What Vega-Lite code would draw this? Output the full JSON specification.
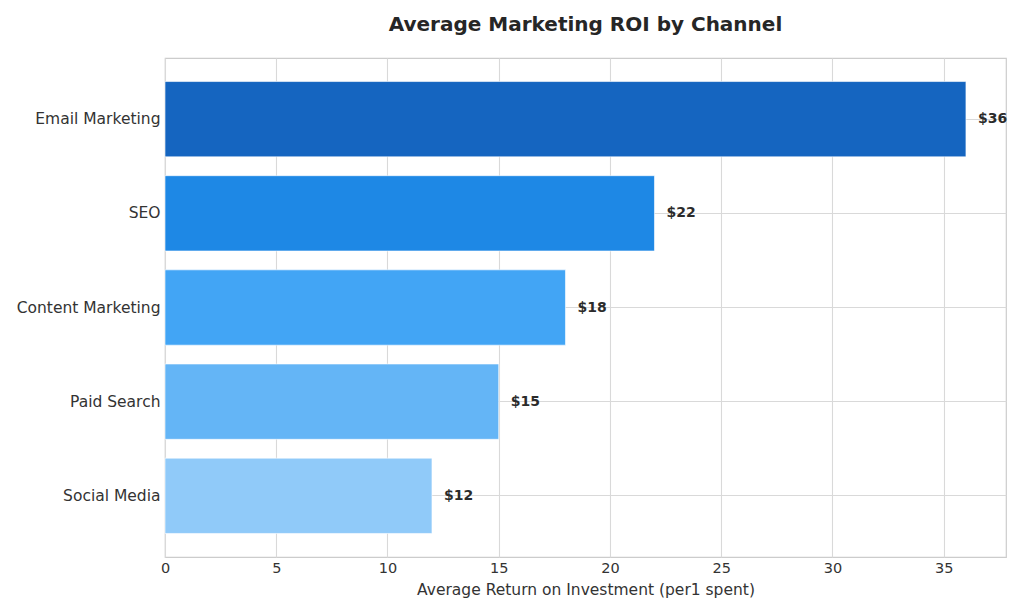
{
  "$schema": "https://vega.github.io/schema/vega-lite/v6.json",
  "description": "Average Marketing ROI by Channel",
  "autosize": {"type": "none"},
  "padding": {"left": 165, "top": 58, "right": 18, "bottom": 58},
  "width": 841,
  "height": 499,
  "background": "white",
  "title": {
    "text": "Average Marketing ROI by Channel",
    "font": "DejaVu Sans",
    "fontSize": 20,
    "fontWeight": "bold",
    "color": "#262626",
    "anchor": "middle",
    "offset": 23
  },
  "config": {
    "view": {"stroke": "#cccccc", "strokeWidth": 1.2},
    "axis": {
      "labelFont": "DejaVu Sans",
      "titleFont": "DejaVu Sans",
      "labelColor": "#333333",
      "titleColor": "#333333",
      "gridColor": "#d9d9d9",
      "gridWidth": 1.1,
      "domain": false,
      "ticks": false
    }
  },
  "data": {
    "values": [
      {"channel": "Email Marketing", "roi": 36, "label": "$36"},
      {"channel": "SEO", "roi": 22, "label": "$22"},
      {"channel": "Content Marketing", "roi": 18, "label": "$18"},
      {"channel": "Paid Search", "roi": 15, "label": "$15"},
      {"channel": "Social Media", "roi": 12, "label": "$12"}
    ]
  },
  "encoding": {
    "y": {
      "field": "channel",
      "type": "nominal",
      "sort": null,
      "title": null,
      "scale": {"paddingInner": 0.2, "paddingOuter": 0.25},
      "axis": {"grid": true, "bandPosition": 0.5, "labelFontSize": 15.5, "labelPadding": 5}
    },
    "x": {
      "field": "roi",
      "type": "quantitative",
      "title": "Average Return on Investment (per1 spent)",
      "scale": {"domain": [0, 37.8], "nice": false, "zero": true},
      "axis": {"values": [0, 5, 10, 15, 20, 25, 30, 35], "labelFlush": false, "labelFontSize": 14.5, "titleFontSize": 15.5, "titleFontWeight": "normal", "labelPadding": 4, "titlePadding": 8}
    }
  },
  "layer": [
    {
      "mark": {"type": "bar", "stroke": "white", "strokeWidth": 0.6},
      "encoding": {
        "color": {
          "field": "channel",
          "type": "nominal",
          "legend": null,
          "scale": {
            "domain": ["Email Marketing", "SEO", "Content Marketing", "Paid Search", "Social Media"],
            "range": ["#1565C0", "#1E88E5", "#42A5F5", "#64B5F6", "#90CAF9"]
          }
        }
      }
    },
    {
      "mark": {"type": "text", "align": "left", "baseline": "middle", "dx": 12, "font": "DejaVu Sans", "fontSize": 14, "fontWeight": "bold", "color": "#2b2b2b"},
      "encoding": {"text": {"field": "label"}}
    }
  ]
}
